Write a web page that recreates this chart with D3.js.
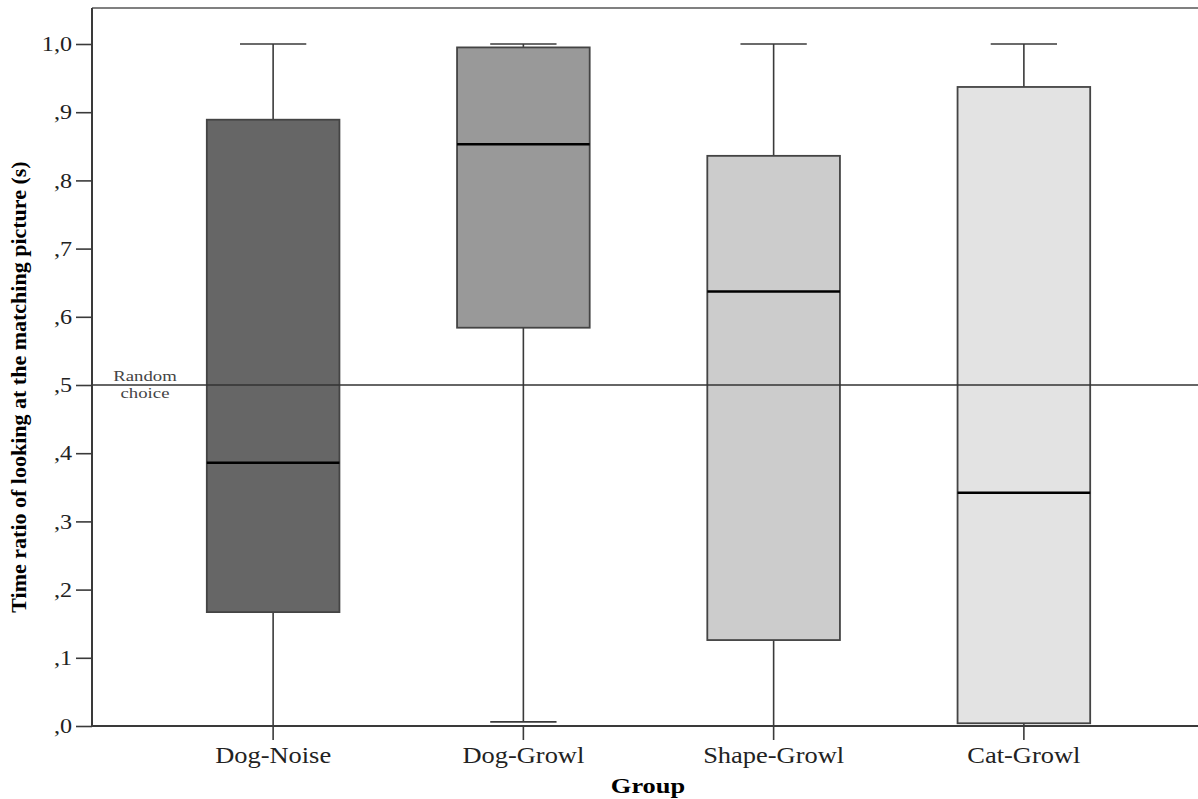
<!DOCTYPE html>
<html>
<head>
<meta charset="utf-8">
<script src="https://cdn.jsdelivr.net/npm/d3@7"></script>
<style>
  body { margin: 0; background: #fff; }
  svg { display: block; }
</style>
</head>
<body>
<svg id="chart"></svg>
<script>
// Values
const groups = ["Dog-Noise", "Dog-Growl", "Shape-Growl", "Cat-Growl"];
const whiskerLow = [0.0, 0.006, 0.0, 0.0];
const q1 = [0.167, 0.584, 0.126, 0.004];
const median = [0.386, 0.853, 0.637, 0.342];
const q3 = [0.889, 0.995, 0.836, 0.937];
const whiskerHigh = [1.0, 1.0, 1.0, 1.0];
const boxColors = ["#666666", "#999999", "#cccccc", "#e3e3e3"];
const yTicks = [0, 0.1, 0.2, 0.3, 0.4, 0.5, 0.6, 0.7, 0.8, 0.9, 1.0];
const yTickLabels = [",0", ",1", ",2", ",3", ",4", ",5", ",6", ",7", ",8", ",9", "1,0"];
const refValue = 0.5;

const svgWidth = 1198, svgHeight = 799;
const plot = { left: 92, right: 1198, top: 8, bottom: 726 };
const serif = "'Liberation Serif', 'DejaVu Serif', serif";
const stretch = 1.15; // the scanned original is a bit wider than tall

const svg = d3.select("#chart")
    .attr("width", svgWidth)
    .attr("height", svgHeight);

const x = d3.scaleBand()
    .domain(groups)
    .range([148, 1149])
    .padding(0);

const y = d3.scaleLinear()
    .domain([0, 1])
    .range([plot.bottom, 44]);

const boxW = x.bandwidth() * 0.53;
const capW = boxW / 2;

// Top frame line
svg.append("line")
    .attr("x1", plot.left).attr("x2", plot.right)
    .attr("y1", plot.top).attr("y2", plot.top)
    .attr("stroke", "#808080")
    .attr("stroke-width", 2);

// Boxes
const data = groups.map((g, i) => ({
    g, lo: whiskerLow[i], q1: q1[i], med: median[i], q3: q3[i], hi: whiskerHigh[i], color: boxColors[i]
}));

const box = svg.append("g").selectAll("g")
    .data(data)
    .join("g")
    .attr("transform", d => `translate(${x(d.g) + x.bandwidth() / 2},0)`);

// upper whisker
box.append("line")
    .attr("x1", 0).attr("x2", 0)
    .attr("y1", d => y(d.hi)).attr("y2", d => y(d.q3))
    .attr("stroke", "#3a3a3a").attr("stroke-width", 1.6);
box.append("line")
    .attr("x1", -capW / 2).attr("x2", capW / 2)
    .attr("y1", d => y(d.hi)).attr("y2", d => y(d.hi))
    .attr("stroke", "#3a3a3a").attr("stroke-width", 1.6);

// lower whisker
box.append("line")
    .attr("x1", 0).attr("x2", 0)
    .attr("y1", d => y(d.q1)).attr("y2", d => y(d.lo))
    .attr("stroke", "#3a3a3a").attr("stroke-width", 1.6);
box.append("line")
    .attr("x1", -capW / 2).attr("x2", capW / 2)
    .attr("y1", d => y(d.lo)).attr("y2", d => y(d.lo))
    .attr("stroke", "#3a3a3a").attr("stroke-width", 1.6);

box.append("rect")
    .attr("x", -boxW / 2)
    .attr("width", boxW)
    .attr("y", d => y(d.q3))
    .attr("height", d => y(d.q1) - y(d.q3))
    .attr("fill", d => d.color)
    .attr("stroke", "#444")
    .attr("stroke-width", 1.8);

box.append("line")
    .attr("x1", -boxW / 2).attr("x2", boxW / 2)
    .attr("y1", d => y(d.med)).attr("y2", d => y(d.med))
    .attr("stroke", "#000").attr("stroke-width", 2.5);

// Random choice reference line
svg.append("line")
    .attr("x1", plot.left).attr("x2", plot.right)
    .attr("y1", y(refValue)).attr("y2", y(refValue))
    .attr("stroke", "#333").attr("stroke-width", 1.3);

[["Random", -4], ["choice", 13]].forEach(([t, dy]) => {
    svg.append("text")
        .attr("transform", `translate(145,${y(refValue) + dy}) scale(1.25,1)`)
        .attr("text-anchor", "middle")
        .style("font-family", serif).style("font-size", "15px").style("fill", "#444")
        .text(t);
});

// Y axis
const yAxis = svg.append("g")
    .attr("transform", `translate(${plot.left},0)`)
    .call(d3.axisLeft(y)
        .tickValues(yTicks)
        .tickFormat((d, i) => yTickLabels[i])
        .tickSize(16)
        .tickPadding(4)
        .tickSizeOuter(0));
yAxis.select(".domain")
    .attr("d", `M0,${plot.top}V${plot.bottom}`)
    .attr("stroke", "#3a3a3a").attr("stroke-width", 2);
yAxis.selectAll(".tick line").attr("stroke", "#3a3a3a").attr("stroke-width", 1.6);
yAxis.selectAll(".tick text")
    .attr("x", -20 / stretch)
    .attr("transform", `scale(${stretch},1)`)
    .style("font-family", serif).style("font-size", "21px").style("fill", "#222");

// X axis
const xAxis = svg.append("g")
    .attr("transform", `translate(0,${plot.bottom})`)
    .call(d3.axisBottom(x).tickSize(14).tickPadding(7).tickSizeOuter(0));
xAxis.select(".domain")
    .attr("d", `M${plot.left},0H${plot.right}`)
    .attr("stroke", "#3a3a3a").attr("stroke-width", 2);
xAxis.selectAll(".tick line").attr("stroke", "#3a3a3a").attr("stroke-width", 1.6);
xAxis.selectAll(".tick text")
    .attr("transform", `scale(${stretch},1)`)
    .style("font-family", serif).style("font-size", "23px").style("fill", "#222");

// Axis titles
svg.append("text")
    .attr("transform", "translate(648,793) scale(1.2,1)")
    .attr("text-anchor", "middle")
    .style("font-family", serif).style("font-size", "22px").style("font-weight", "bold")
    .text("Group");

svg.append("text")
    .attr("transform", `translate(26,${(plot.top + plot.bottom) / 2 + 20}) rotate(-90)`)
    .attr("text-anchor", "middle")
    .style("font-family", serif).style("font-size", "22px").style("font-weight", "bold")
    .text("Time ratio of looking at the matching picture (s)");
</script>
</body>
</html>
